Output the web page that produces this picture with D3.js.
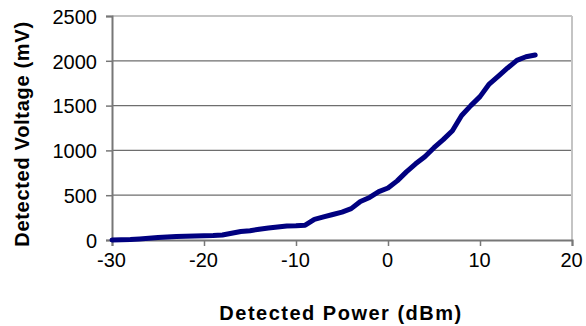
<!DOCTYPE html>
<html><head><meta charset="utf-8">
<script src="https://cdn.jsdelivr.net/npm/d3@7"></script>
<style>body{margin:0;background:#fff}svg{display:block}</style>
</head><body>
<script>
const power = [-30,-29,-28,-27,-26,-25,-24,-23,-22,-21,-20,-19,-18,-17,-16,-15,-14,-13,-12,-11,-10,-9,-8,-7,-6,-5,-4,-3,-2,-1,0,1,2,3,4,5,6,7,8,9,10,11,12,13,14,15,16];
const voltage = [0,2,5,12,20,27,33,38,42,45,48,50,55,75,95,104,120,133,145,155,158,165,230,258,285,312,350,430,475,540,580,660,760,850,930,1030,1120,1220,1390,1500,1600,1740,1830,1920,2005,2045,2065];
const xTicks = [-30,-20,-10,0,10,20];
const yTicks = [0,500,1000,1500,2000,2500];
const xTitle = "Detected Power (dBm)";
const yTitle = "Detected Voltage (mV)";

const W=586,H=326;
const svg=d3.select("body").append("svg").attr("width",W).attr("height",H);
const x=d3.scaleLinear().domain([-30,20]).range([112,572]);
const y=d3.scaleLinear().domain([0,2500]).range([240,16]);
const font="'Liberation Sans', Arial, sans-serif";

// gridlines
svg.append("g").selectAll("line").data(yTicks.filter(d=>d>0&&d<2500)).join("line")
 .attr("x1",x(-30)).attr("x2",x(20)).attr("y1",d=>y(d)).attr("y2",d=>y(d))
 .attr("stroke","#6e6e6e").attr("stroke-width",1.2);
// plot border top/right
svg.append("line").attr("x1",x(-30)).attr("x2",x(20)).attr("y1",y(2500)).attr("y2",y(2500)).attr("stroke","#c4c4c4").attr("stroke-width",2);
svg.append("line").attr("x1",x(20)).attr("x2",x(20)).attr("y1",y(2500)).attr("y2",y(0)).attr("stroke","#c4c4c4").attr("stroke-width",2);

// axes
const fmt=d=>String(d);
const ya=svg.append("g").attr("transform",`translate(${x(-30)},0)`)
 .call(d3.axisLeft(y).tickValues(yTicks).tickSize(6).tickPadding(9).tickFormat(fmt));
const xa=svg.append("g").attr("transform",`translate(0,${y(0)})`)
 .call(d3.axisBottom(x).tickValues(xTicks).tickSize(6).tickPadding(7).tickFormat(fmt));
[ya,xa].forEach(a=>{
  a.select(".domain").attr("stroke","#777").attr("stroke-width",2);
  a.selectAll(".tick line").attr("stroke","#777").attr("stroke-width",1.5);
  a.selectAll(".tick text").attr("font-family",font).attr("font-size",20).attr("fill","#000");
});
xa.selectAll(".tick text").attr("dy","0.71em").attr("x",-1);
ya.selectAll(".tick text").attr("dy","0.36em");

// line
svg.append("path").datum(power.map((p,i)=>[p,voltage[i]]))
 .attr("fill","none").attr("stroke","#000080").attr("stroke-width",5)
 .attr("stroke-linejoin","round").attr("stroke-linecap","round")
 .attr("d",d3.line().x(d=>x(d[0])).y(d=>y(d[1])));

// titles
svg.append("text").attr("x",341).attr("y",320).attr("text-anchor","middle")
 .attr("font-family",font).attr("font-weight","bold").attr("font-size",20)
 .attr("letter-spacing","1.5px").text(xTitle);
svg.append("text").attr("transform","translate(29,134) rotate(-90)").attr("text-anchor","middle")
 .attr("font-family",font).attr("font-weight","bold").attr("font-size",20)
 .attr("letter-spacing","0.7px").text(yTitle);
</script>
</body></html>
